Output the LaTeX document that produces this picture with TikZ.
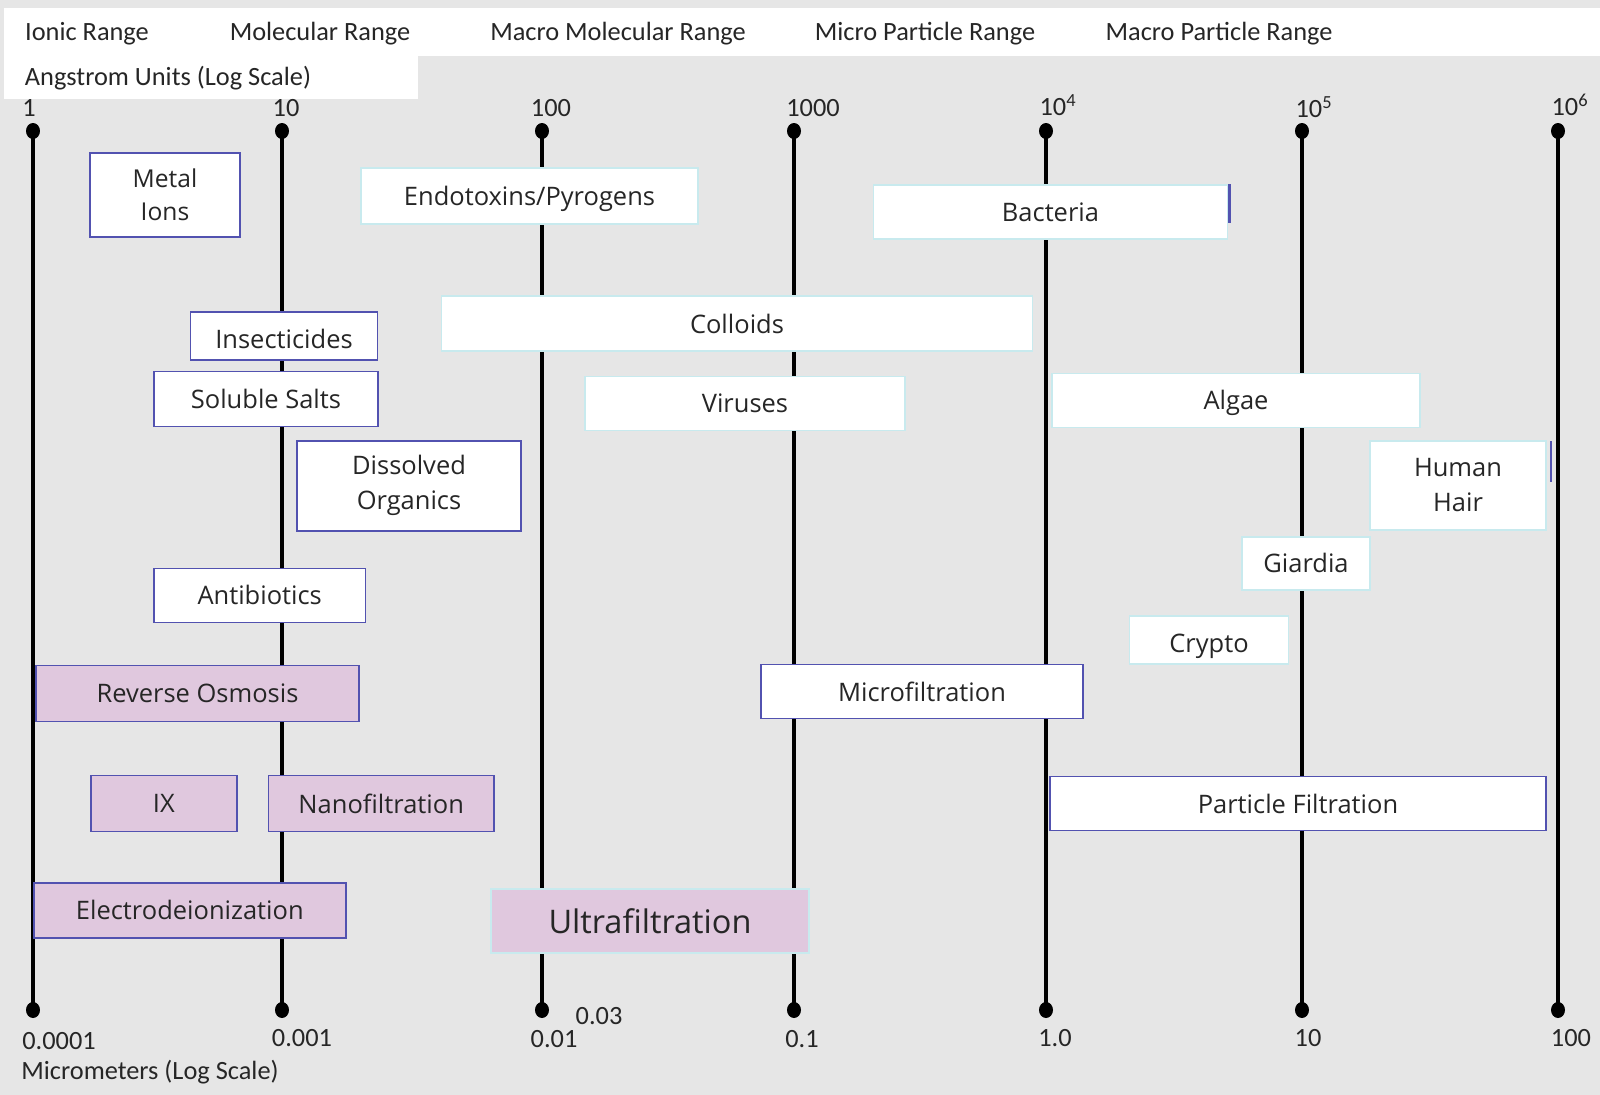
\documentclass[tikz,border=0pt]{standalone}
\usepackage{fontspec}
\setmainfont{Carlito}
\newfontfamily\boxfont{Open Sans}
\definecolor{bggray}{HTML}{E6E6E6}
\definecolor{edgeblue}{HTML}{5252B0}
\definecolor{edgecyan}{HTML}{C8EAEE}
\definecolor{procfill}{HTML}{E0C8DE}
\definecolor{txtgray}{HTML}{262626}
\tikzset{
  lbl/.style={font=\fontsize{15}{18}\selectfont, text=txtgray, inner sep=0pt,
    text height=1.6ex, text depth=0.3ex},
  sizebox/.style={draw=edgecyan, fill=white, line width=1pt, inner sep=0pt,
    align=center, text=txtgray, font=\boxfont\fontsize{14.5}{20}\selectfont},
  ionbox/.style={sizebox, draw=edgeblue},
  procbox/.style={sizebox, draw=edgeblue, fill=procfill}
}
\begin{document}
\begin{tikzpicture}[x=0.02cm,y=-0.02cm]
    \fill[bggray] (0,0) rectangle (1600,1095);
    \useasboundingbox (0,0) rectangle (1600,1095);
    % header bands
    \fill[white] (4,8) rectangle (1600,56);
    \fill[white] (4,56) rectangle (418,99);
    \node[lbl] (ionic) at (87,35) {Ionic Range};
    \node[lbl] (molec) at (320,35) {Molecular Range};
    \node[lbl] (macmol) at (618,35) {Macro Molecular Range};
    \node[lbl] (micpart) at (925,35) {Micro Particle Range};
    \node[lbl] (macpart) at (1219,35) {Macro Particle Range};
    \node[lbl] (angst) at (168,80) {Angstrom Units (Log Scale)};
    % scale lines
    \foreach \n/\x in {1/33,2/282,3/542,4/794,5/1046,6/1302,7/1558}{
        \coordinate (top\n) at (\x,131);
        \coordinate (bot\n) at (\x,1010);
        \draw[line width=2.2pt] (top\n) -- (bot\n);
        \fill (top\n) ellipse [x radius=0.14cm, y radius=0.16cm];
        \fill (bot\n) ellipse [x radius=0.14cm, y radius=0.16cm];
    }
    % angstrom values
    \node[lbl] (a1) at (29,111) {1};
    \node[lbl] (a2) at (286,111) {10};
    \node[lbl] (a3) at (551,111) {100};
    \node[lbl] (a4) at (813,111) {1000};
    \node[lbl] (a5) at (1058,110) {10\textsuperscript{4}};
    \node[lbl] (a6) at (1314,112) {10\textsuperscript{5}};
    \node[lbl] (a7) at (1570,110) {10\textsuperscript{6}};
    % micrometer values
    \node[lbl] (m1) at (59,1044) {0.0001};
    \node[lbl] (m2) at (302,1041) {0.001};
    \node[lbl] (m3) at (554,1042) {0.01};
    \node[lbl] (m3b) at (599,1019) {0.03};
    \node[lbl] (m4) at (802,1042) {0.1};
    \node[lbl] (m5) at (1055,1041) {1.0};
    \node[lbl] (m6) at (1308,1041) {10};
    \node[lbl] (m7) at (1571,1041) {100};
    \node[lbl] (micro) at (150,1074) {Micrometers (Log Scale)};
    % contaminants
    \node[ionbox, minimum width=3.0cm, minimum height=1.67cm, font=\boxfont\fontsize{14}{18.5}\selectfont] (metal) at (165,195) {Metal\\Ions};
    \node[sizebox, minimum width=6.74cm, minimum height=1.11cm, text height=11pt, text depth=0pt] (endo) at (529.5,196) {Endotoxins/Pyrogens};
    \node[sizebox, minimum width=7.08cm, minimum height=1.08cm] (bact) at (1050.5,212) {Bacteria};
    \node[ionbox, minimum width=3.74cm, minimum height=0.96cm, text height=14.4pt, text depth=0pt] (insect) at (284,336) {Insecticides};
    \node[sizebox, minimum width=11.82cm, minimum height=1.1cm] (coll) at (737,323.5) {Colloids};
    \node[ionbox, minimum width=4.47cm, minimum height=1.1cm] (salts) at (266,399) {Soluble Salts};
    \node[sizebox, minimum width=6.41cm, minimum height=1.08cm] (virus) at (745,403.5) {Viruses};
    \node[sizebox, minimum width=7.37cm, minimum height=1.08cm, text height=10.8pt, text depth=0pt] (algae) at (1236,400.5) {Algae};
    \node[ionbox, minimum width=4.49cm, minimum height=1.8cm] (organ) at (409,485.7) {Dissolved\\Organics};
    \node[sizebox, minimum width=3.51cm, minimum height=1.78cm] (hair) at (1458,485.2) {Human\\Hair};
    \node[sizebox, minimum width=2.57cm, minimum height=1.06cm] (giard) at (1306,563.3) {Giardia};
    \node[ionbox, minimum width=4.23cm, minimum height=1.08cm] (antib) at (259.7,595.4) {Antibiotics};
    \node[sizebox, minimum width=3.18cm, minimum height=0.96cm, text height=14.4pt, text depth=0pt] (crypto) at (1209,640.3) {Crypto};
    \draw[edgeblue, line width=1.5pt] ([xshift=0.5pt]bact.north east) -- ++(0,39);
    \draw[edgeblue, line width=1.5pt] ([xshift=2.5pt,yshift=-0.8pt]hair.north east) -- ++(0,41);
    % processes
    \node[procbox, minimum width=6.47cm, minimum height=1.12cm] (ro) at (197.5,693.4) {Reverse Osmosis};
    \node[ionbox, minimum width=6.43cm, minimum height=1.08cm] (mf) at (922,691.4) {Microfiltration};
    \node[procbox, minimum width=2.92cm, minimum height=1.12cm] (ix) at (163.8,803.6) {IX};
    \node[procbox, minimum width=4.51cm, minimum height=1.12cm] (nf) at (381.2,803.6) {Nanofiltration};
    \node[ionbox, minimum width=9.92cm, minimum height=1.08cm] (pf) at (1298,803.6) {Particle Filtration};
    \node[procbox, minimum width=6.24cm, minimum height=1.1cm] (edi) at (189.8,910.3) {Electrodeionization};
    \node[procbox, draw=edgecyan, minimum width=6.37cm, minimum height=1.28cm, font=\boxfont\fontsize{18.5}{22}\selectfont] (uf) at (650,921) {Ultrafiltration};
\end{tikzpicture}
\end{document}
